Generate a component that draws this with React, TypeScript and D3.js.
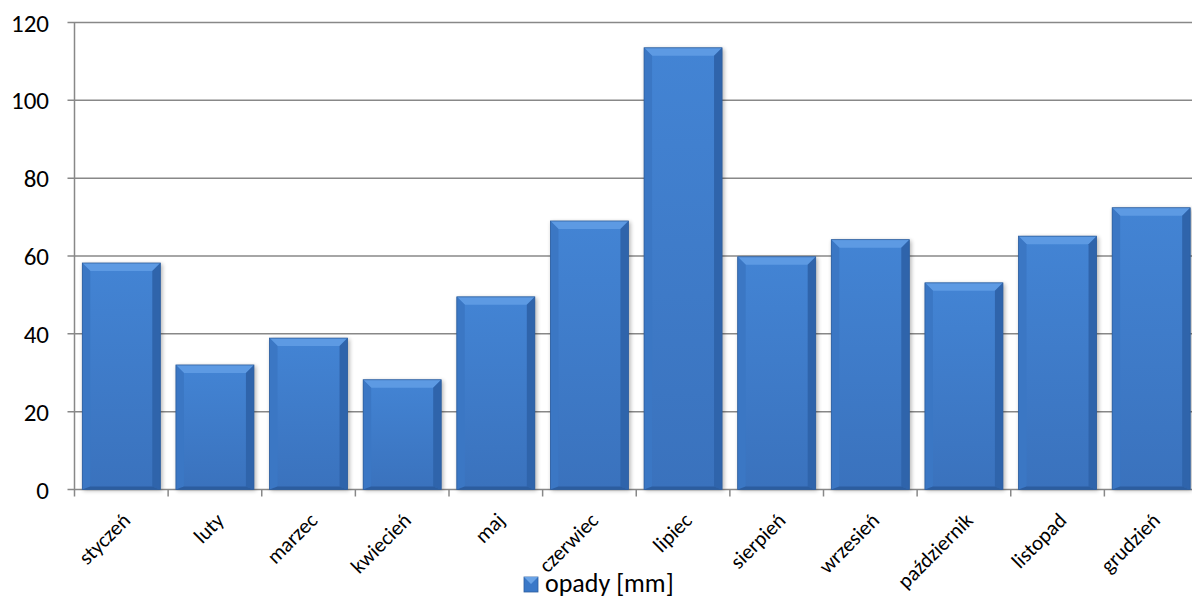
import React from "react";
import * as d3 from "d3";

const categories = ["styczeń", "luty", "marzec", "kwiecień", "maj", "czerwiec", "lipiec", "sierpień", "wrzesień", "październik", "listopad", "grudzień"];
const values = [58.2, 32, 38.9, 28.2, 49.5, 69, 113.5, 59.8, 64.2, 53.1, 65.1, 72.4];
const yTicks = [0, 20, 40, 60, 80, 100, 120];
const seriesName = "opady [mm]";

const W = 1192, H = 598;
const left = 74.5, right = 1198, top = 22.5, bottom = 489.5;
const FONT = "Carlito, Calibri, Lato, 'Open Sans', sans-serif";

export default function App() {
  const x = d3.scaleBand<string>().domain(categories).range([left, right]).paddingInner(0.167).paddingOuter(0.0835);
  const xb = d3.scaleBand<string>().domain(categories).range([left, right]);
  const y = d3.scaleLinear().domain([0, 120]).range([bottom, top]);
  const bw = x.bandwidth();
  const bev = 8;
  return (
    <svg width={W} height={H} style={{ position: "absolute", left: 0, top: 0, background: "#fff" }}>
      <defs>
        <linearGradient id="face" x1="0" y1="0" x2="0" y2="1">
          <stop offset="0" stopColor="#4384d4" />
          <stop offset="1" stopColor="#3a72bd" />
        </linearGradient>
        <filter id="sh" x="-10%" y="-10%" width="120%" height="120%">
          <feGaussianBlur stdDeviation="2" />
        </filter>
      </defs>
      {yTicks.map(t => (
        <g key={t}>
          <line x1={left - 7} x2={right} y1={y(t)} y2={y(t)} stroke="#888" strokeWidth={1.5} />
          <text x={49} y={y(t)} dy="0.36em" textAnchor="end" fontSize={25} fontFamily={FONT} fill="#000">{t}</text>
        </g>
      ))}
      <line x1={left} x2={left} y1={top} y2={bottom + 7} stroke="#888" strokeWidth={1.5} />
      {categories.map((c) => (
        <line key={c} x1={(xb(c) as number) + xb.bandwidth()} x2={(xb(c) as number) + xb.bandwidth()} y1={bottom} y2={bottom + 7} stroke="#888" strokeWidth={1.5} />
      ))}
      {categories.map((c, i) => {
        const x0 = x(c) as number;
        const x1 = x0 + bw;
        const y0 = y(values[i]);
        const y1 = y(0);
        return (
          <g key={c}>
            <rect x={x0 + 1} y={y0 + 1} width={bw + 1} height={y1 - y0} fill="#000" opacity={0.3} filter="url(#sh)" />
            <rect x={x0} y={y0} width={bw} height={y1 - y0} fill="url(#face)" />
            <polygon points={`${x0},${y0} ${x1},${y0} ${x1 - bev},${y0 + bev} ${x0 + bev},${y0 + bev}`} fill="#5d9ae3" />
            <polygon points={`${x0},${y0} ${x0 + bev},${y0 + bev} ${x0 + bev},${y1 - 3} ${x0},${y1}`} fill="#3b77c4" />
            <polygon points={`${x1},${y0} ${x1 - bev},${y0 + bev} ${x1 - bev},${y1 - 3} ${x1},${y1}`} fill="#2f64ab" />
            <polygon points={`${x0},${y1} ${x0 + bev},${y1 - 3} ${x1 - bev},${y1 - 3} ${x1},${y1}`} fill="#2c5d9f" />
            <rect x={x0} y={y0} width={bw} height={y1 - y0} fill="none" stroke="#2d5e9e" strokeWidth={0.8} />
          </g>
        );
      })}
      {categories.map(c => {
        const cx = (xb(c) as number) + xb.bandwidth() / 2 + 5;
        return (
          <text key={c} transform={`translate(${cx},${bottom + 27}) rotate(-45)`} textAnchor="end" dy="0.35em" fontSize={21} fontFamily={FONT} fill="#000">{c}</text>
        );
      })}
      <g>
        <rect x={524} y={577} width={14} height={15} fill="#3a78c8" stroke="#2d5e9e" strokeWidth={0.8} />
        <polygon points="524,577 538,577 531,584" fill="#6aa3e6" />
        <text x={545} y={592} fontSize={26} fontFamily={FONT} fill="#000">{seriesName}</text>
      </g>
    </svg>
  );
}
